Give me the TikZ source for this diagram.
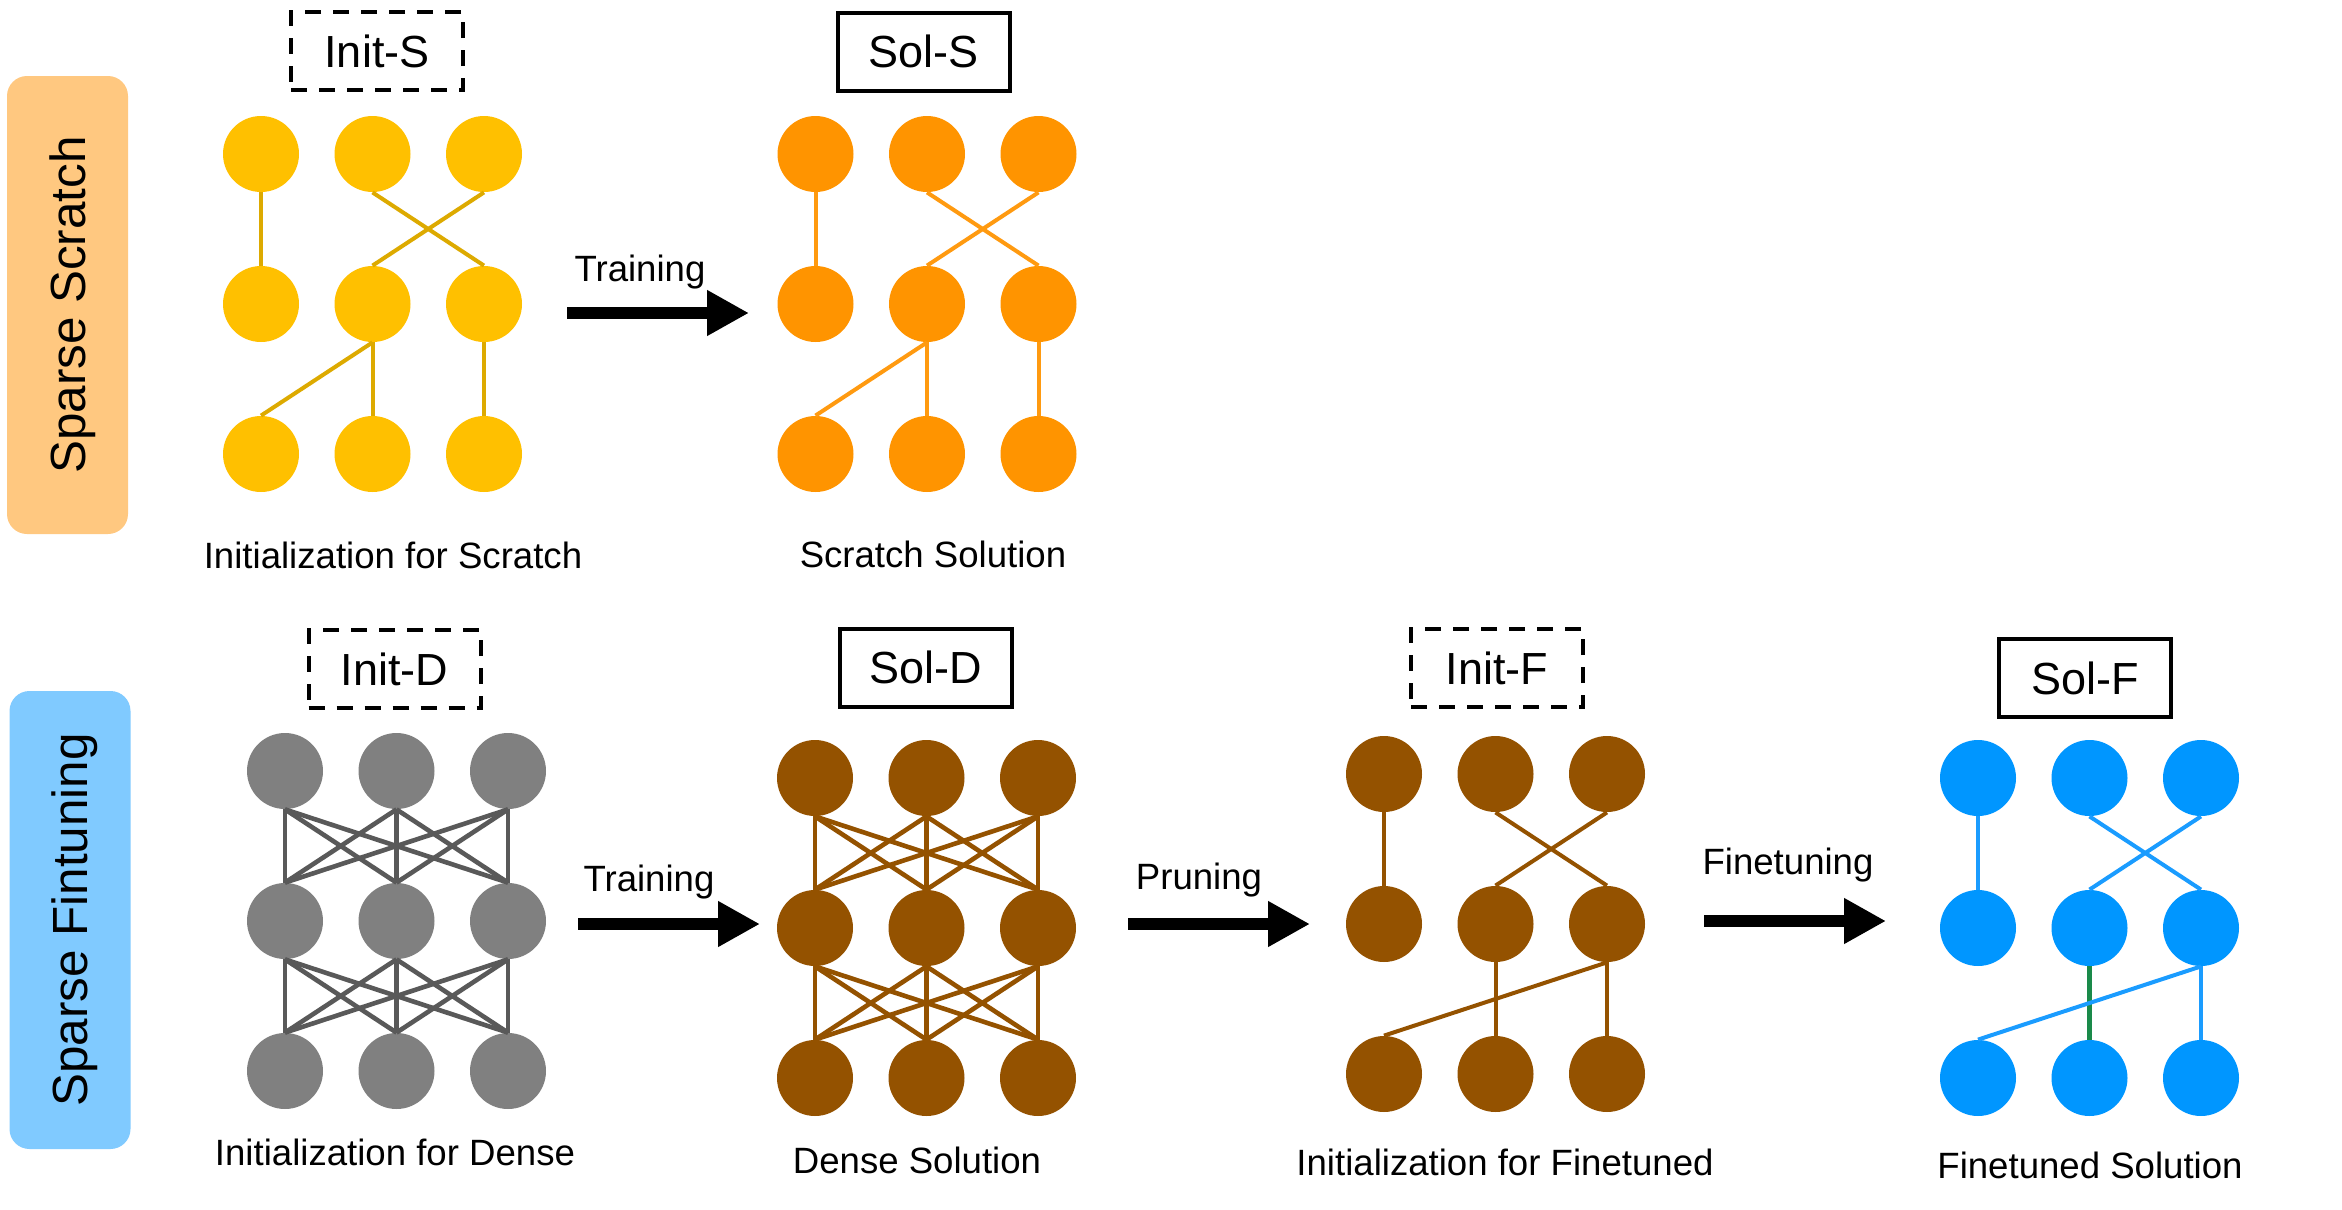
\documentclass[tikz,border=0pt]{standalone}
\usepackage{fontspec}
\setmainfont{Liberation Sans}
\usetikzlibrary{arrows.meta}
\definecolor{yelN}{HTML}{FFC000}
\definecolor{yelE}{HTML}{DDAA00}
\definecolor{orgN}{HTML}{FF9400}
\definecolor{orgE}{HTML}{FF9A10}
\definecolor{gryN}{HTML}{808080}
\definecolor{gryE}{HTML}{595959}
\definecolor{brnN}{HTML}{945200}
\definecolor{brnE}{HTML}{945200}
\definecolor{bluN}{HTML}{0096FF}
\definecolor{bluE}{HTML}{1A9CFF}
\definecolor{grnE}{HTML}{1A8A4A}
\definecolor{tagO}{HTML}{FFC880}
\definecolor{tagB}{HTML}{80CAFF}
\newcommand\placenet[4]{%
  \foreach \c in {1,2,3}{%
    \foreach \r in {1,2,3}{%
      \node[neuron,fill=#4] (#1\r\c) at ({#2+(\c-1)*111.5},{#3+(\r-1)*150}) {};
    }%
  }%
}
\begin{document}
\begin{tikzpicture}[x=0.5pt,y=-0.5pt,
  neuron/.style={circle,inner sep=0pt,minimum size=38pt,draw=none},
  edge/.style={line width=2pt},
  denseedge/.style={line width=2.3pt},
  initbox/.style={draw,line width=2pt,dash pattern=on 8pt off 6pt,minimum width=86pt,minimum height=39pt,inner sep=0pt,font=\fontsize{22.5}{27}\selectfont},
  solbox/.style={draw,line width=2pt,minimum width=86pt,minimum height=39pt,inner sep=0pt,font=\fontsize{22.5}{27}\selectfont},
  caption/.style={font=\fontsize{18.3}{22}\selectfont,inner sep=0pt},
  flow/.style={line width=6pt,-{Triangle[length=21pt,width=21.5pt]}},
  tag/.style={rounded corners=10pt,minimum width=60.5pt,minimum height=229pt,inner sep=0pt,draw=none},
  tagtext/.style={rotate=90,font=\fontsize{24.7}{30}\selectfont,inner sep=0pt}]
\useasboundingbox[fill=white] (0,0) rectangle (2342,1210);

% side tags
\node[tag,fill=tagO] (tagS) at (67.5,305) {};
\node[tagtext] (tagStext) at (73,305) {Sparse Scratch};
\node[tag,fill=tagB] (tagF) at (70,920) {};
\node[tagtext] (tagFtext) at (75,920) {Sparse Fintuning};

% boxes
\node[initbox] (initS) at (377,51) {Init-S};
\node[solbox] (solS) at (923.5,51.5) {Sol-S};
\node[initbox] (initD) at (394.5,669) {Init-D};
\node[solbox] (solD) at (926,667.5) {Sol-D};
\node[initbox] (initF) at (1497,668) {Init-F};
\node[solbox] (solF) at (2085,678) {Sol-F};

% networks
\placenet{s}{261}{154}{yelN}
\placenet{t}{815.5}{154}{orgN}
\placenet{d}{285}{771}{gryN}
\placenet{e}{815}{778}{brnN}
\placenet{p}{1384}{774}{brnN}
\placenet{f}{1978}{778}{bluN}

% sparse scratch init
\begin{scope}[edge,draw=yelE]
\draw (s11.south) -- (s21.north);
\draw (s12.south) -- (s23.north);
\draw (s13.south) -- (s22.north);
\draw (s22.south) -- (s31.north);
\draw (s22.south) -- (s32.north);
\draw (s23.south) -- (s33.north);
\end{scope}
% scratch solution
\begin{scope}[edge,draw=orgE]
\draw (t11.south) -- (t21.north);
\draw (t12.south) -- (t23.north);
\draw (t13.south) -- (t22.north);
\draw (t22.south) -- (t31.north);
\draw (t22.south) -- (t32.north);
\draw (t23.south) -- (t33.north);
\end{scope}
% dense init
\begin{scope}[denseedge,draw=gryE]
\foreach \a in {1,2,3}{\foreach \b in {1,2,3}{
  \draw (d1\a.south) -- (d2\b.north);
  \draw (d2\a.south) -- (d3\b.north);
}}
\end{scope}
% dense solution
\begin{scope}[denseedge,draw=brnE]
\foreach \a in {1,2,3}{\foreach \b in {1,2,3}{
  \draw (e1\a.south) -- (e2\b.north);
  \draw (e2\a.south) -- (e3\b.north);
}}
\end{scope}
% pruned init
\begin{scope}[edge,draw=brnE]
\draw (p11.south) -- (p21.north);
\draw (p12.south) -- (p23.north);
\draw (p13.south) -- (p22.north);
\draw (p22.south) -- (p32.north);
\draw (p23.south) -- (p31.north);
\draw (p23.south) -- (p33.north);
\end{scope}
% finetuned solution
\begin{scope}[edge,draw=bluE]
\draw (f11.south) -- (f21.north);
\draw (f12.south) -- (f23.north);
\draw (f13.south) -- (f22.north);
\draw[draw=grnE,line width=2.4pt] (f22.south) -- (f32.north);
\draw (f23.south) -- (f31.north);
\draw (f23.south) -- (f33.north);
\end{scope}

% flow arrows
\coordinate (a1s) at (567,313);  \coordinate (a1e) at (749,313);
\coordinate (a2s) at (578,924);  \coordinate (a2e) at (760,924);
\coordinate (a3s) at (1128,924); \coordinate (a3e) at (1310,924);
\coordinate (a4s) at (1704,921); \coordinate (a4e) at (1886,921);
\draw[flow] (a1s) -- (a1e);
\draw[flow] (a2s) -- (a2e);
\draw[flow] (a3s) -- (a3e);
\draw[flow] (a4s) -- (a4e);
\node[caption] (l1) at (640,272) {Training};
\node[caption] (l2) at (649,882) {Training};
\node[caption] (l3) at (1199,880) {Pruning};
\node[caption] (l4) at (1788,865) {Finetuning};

% captions
\node[caption] (c1) at (393,555) {Initialization for Scratch};
\node[caption] (c2) at (933,554) {Scratch Solution};
\node[caption] (c3) at (395,1152) {Initialization for Dense};
\node[caption] (c4) at (917,1160) {Dense Solution};
\node[caption] (c5) at (1505,1162) {Initialization for Finetuned};
\node[caption] (c6) at (2090,1165) {Finetuned Solution};
\end{tikzpicture}
\end{document}
